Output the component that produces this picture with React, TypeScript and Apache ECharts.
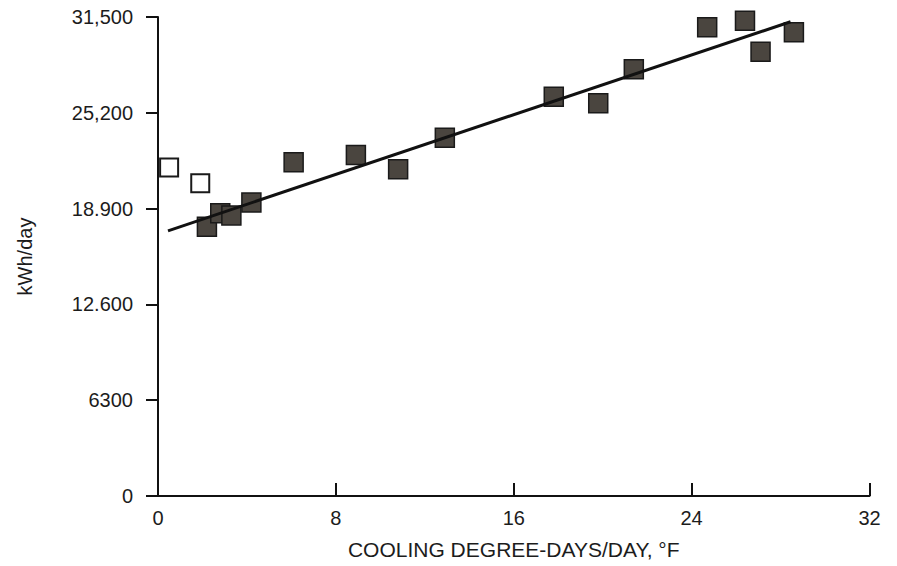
import React, { useEffect, useRef } from "react";
import * as echarts from "echarts";

// Filled squares (cooling degree-days/day, kWh/day)
const filledX = [2.2, 2.8, 3.3, 4.2, 6.1, 8.9, 10.8, 12.9, 17.8, 19.8, 21.4, 24.7, 26.4, 27.1, 28.6];
const filledY = [17700, 18600, 18450, 19300, 21950, 22420, 21480, 23560, 26260, 25820, 28060, 30820, 31260, 29220, 30490];

// Open (excluded) squares
const openX = [0.5, 1.9];
const openY = [21600, 20560];

// Regression line end points
const fitX = [0.45, 28.45];
const fitY = [17440, 31190];

const xTicks = [0, 8, 16, 24, 32];
const yTicks = [0, 6300, 12600, 18900, 25200, 31500];
const yTickLabels = ["0", "6300", "12.600", "18.900", "25,200", "31,500"];

const FONT = "'Liberation Sans', Arial, Helvetica, sans-serif";
const TEXT = "#1c1c1c";

export default function App() {
  const ref = useRef<HTMLDivElement>(null);
  useEffect(() => {
    if (!ref.current) return;
    const chart = echarts.init(ref.current, null, { renderer: "svg" });
    const filled = filledX.map((x, i) => [x, filledY[i]]);
    const open = openX.map((x, i) => [x, openY[i]]);
    const fit = fitX.map((x, i) => [x, fitY[i]]);
    chart.setOption({
      animation: false,
      backgroundColor: "#ffffff",
      grid: { left: 158, right: 27.5, top: 17, bottom: 70, containLabel: false },
      xAxis: {
        type: "value",
        min: xTicks[0],
        max: xTicks[xTicks.length - 1],
        interval: 8,
        name: "COOLING DEGREE-DAYS/DAY, °F",
        nameLocation: "middle",
        nameGap: 43,
        nameTextStyle: { fontFamily: FONT, fontSize: 21, color: TEXT },
        axisLine: { onZero: false, lineStyle: { color: "#111", width: 2 } },
        axisTick: { inside: true, length: 13, lineStyle: { color: "#111", width: 2 } },
        axisLabel: { margin: 12, fontFamily: FONT, fontSize: 20, color: TEXT },
        splitLine: { show: false },
      },
      yAxis: {
        type: "value",
        min: yTicks[0],
        max: yTicks[yTicks.length - 1],
        interval: 6300,
        name: "kWh/day",
        nameLocation: "middle",
        nameGap: 123,
        nameTextStyle: { fontFamily: FONT, fontSize: 20, color: TEXT },
        axisLine: { onZero: false, lineStyle: { color: "#111", width: 2 } },
        axisTick: { inside: false, length: 12, lineStyle: { color: "#111", width: 2 } },
        axisLabel: {
          margin: 25,
          fontFamily: FONT,
          fontSize: 20,
          color: TEXT,
          formatter: (v: number) => {
            const i = yTicks.indexOf(v);
            return i >= 0 ? yTickLabels[i] : "";
          },
        },
        splitLine: { show: false },
      },
      series: [
        {
          type: "scatter",
          data: filled,
          symbol: "rect",
          symbolSize: 19,
          itemStyle: { color: "#4a453f", borderColor: "#1a1a1a", borderWidth: 1.5, opacity: 1 },
          z: 3,
        },
        {
          type: "scatter",
          data: open,
          symbol: "rect",
          symbolSize: 18,
          itemStyle: { color: "#ffffff", borderColor: "#1a1a1a", borderWidth: 2, opacity: 1 },
          z: 3,
        },
        {
          type: "line",
          data: fit,
          symbol: "none",
          lineStyle: { color: "#111", width: 3 },
          z: 4,
        },
      ],
    });
    return () => chart.dispose();
  }, []);
  return <div ref={ref} style={{ position: "fixed", left: 0, top: 0, width: 897, height: 566 }} />;
}
